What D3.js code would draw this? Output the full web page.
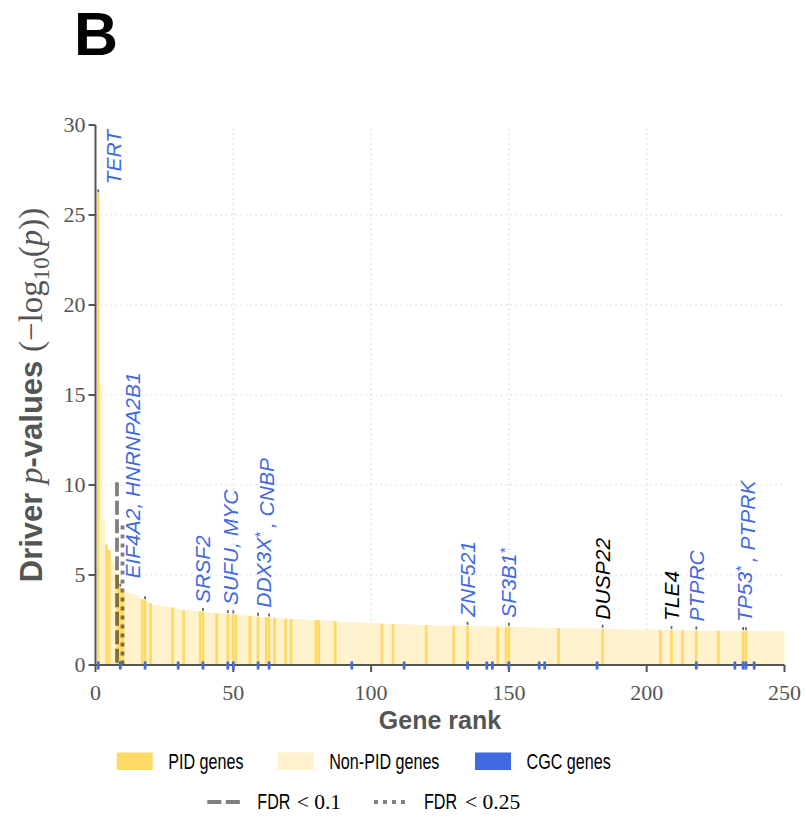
<!DOCTYPE html>
<html><head><meta charset="utf-8">
<script src="https://cdn.jsdelivr.net/npm/d3@7"></script>
<style>body{margin:0;background:#fff} svg{display:block}</style>
</head><body>
<svg id="c" width="806" height="818"></svg>
<script>
// ---------------- data ----------------
const pValues = [
  26.2, 15.6, 8.1, 6.7, 6.4, 5.8, 5.5, 5.05, 4.3, 4.05,
  4.02, 4.0, 3.96, 3.92, 3.86, 3.76, 3.66, 3.6, 3.5, 3.43,
  3.38, 3.35, 3.32, 3.3, 3.28, 3.25, 3.22, 3.2, 3.16, 3.13,
  3.09, 3.05, 3.04, 3.03, 3.02, 3.0, 2.99, 2.97, 2.95, 2.93,
  2.92, 2.9, 2.89, 2.88, 2.87, 2.86, 2.85, 2.83, 2.82, 2.81,
  2.79, 2.78, 2.77, 2.76, 2.74, 2.73, 2.72, 2.7, 2.68, 2.67,
  2.66, 2.65, 2.64, 2.63, 2.62, 2.61, 2.6, 2.59, 2.58, 2.57,
  2.56, 2.555, 2.55, 2.545, 2.54, 2.53, 2.52, 2.515, 2.51, 2.5,
  2.49, 2.48, 2.475, 2.47, 2.46, 2.45, 2.44, 2.43, 2.42, 2.41,
  2.4, 2.39, 2.385, 2.38, 2.375, 2.37, 2.36, 2.35, 2.34, 2.33,
  2.32, 2.315, 2.31, 2.3, 2.295, 2.29, 2.285, 2.28, 2.275, 2.27,
  2.265, 2.26, 2.255, 2.25, 2.245, 2.24, 2.235, 2.23, 2.225, 2.22,
  2.215, 2.21, 2.21, 2.205, 2.2, 2.2, 2.195, 2.19, 2.19, 2.185,
  2.18, 2.18, 2.18, 2.175, 2.175, 2.17, 2.17, 2.17, 2.165, 2.16,
  2.16, 2.155, 2.15, 2.15, 2.145, 2.14, 2.14, 2.135, 2.13, 2.13,
  2.125, 2.12, 2.12, 2.115, 2.11, 2.1, 2.1, 2.095, 2.09, 2.085,
  2.08, 2.075, 2.07, 2.07, 2.065, 2.06, 2.06, 2.055, 2.05, 2.05,
  2.05, 2.045, 2.045, 2.04, 2.04, 2.04, 2.035, 2.03, 2.03, 2.025,
  2.025, 2.02, 2.02, 2.02, 2.015, 2.01, 2.01, 2.005, 2.0, 2.0,
  2.0, 1.995, 1.99, 1.99, 1.985, 1.98, 1.975, 1.97, 1.97, 1.965,
  1.96, 1.96, 1.955, 1.95, 1.95, 1.95, 1.945, 1.945, 1.94, 1.94,
  1.935, 1.935, 1.93, 1.93, 1.925, 1.925, 1.92, 1.92, 1.915, 1.915,
  1.91, 1.91, 1.905, 1.905, 1.9, 1.9, 1.9, 1.895, 1.895, 1.89,
  1.89, 1.89, 1.885, 1.885, 1.885, 1.88, 1.88, 1.88, 1.88, 1.875,
  1.875, 1.875, 1.875, 1.87, 1.87, 1.87, 1.87, 1.87, 1.87, 1.87
];
const pidRanks = [1,4,5,8,9,10,17,18,20,28,32,38,39,44,48,50,51,56,59,62,63,65,69,71,80,81,87,
  104,108,120,130,135,146,149,150,168,184,205,209,213,218,226,235,236];
const cgcRanks = [1,9,18,30,39,48,50,59,63,93,112,135,142,144,150,161,163,182,218,232,235,236,239];
const geneLabels = [
  {text:"TERT", ranks:[1], cgc:true},
  {text:"EIF4A2, HNRNPA2B1", ranks:[9,18], cgc:true},
  {text:"SRSF2", ranks:[39], cgc:true},
  {text:"SUFU, MYC", ranks:[48,50], cgc:true},
  {text:"DDX3X*, CNBP", ranks:[59,63], cgc:true},
  {text:"ZNF521", ranks:[135], cgc:true},
  {text:"SF3B1*", ranks:[150], cgc:true},
  {text:"DUSP22", ranks:[184], cgc:false},
  {text:"TLE4", ranks:[209], cgc:false},
  {text:"PTPRC", ranks:[218], cgc:true},
  {text:"TP53*, PTPRK", ranks:[235,236], cgc:true}
];
const fdrLines = [
  {label:"FDR", math:"< 0.1", rank:7.8, top:10.15, kind:"dashed"},
  {label:"FDR", math:"< 0.25", rank:9.8, top:7.75, kind:"dotted"}
];
const legendGenes = ["PID genes", "Non-PID genes", "CGC genes"];
const yTicks = [0,5,10,15,20,25,30];
const xTicks = [0,50,100,150,200,250];

// ---------------- styles ----------------
const PID = "#FFD966", NON = "#FFF2CC", CGC = "#4169E1", AX = "#555555";
const SERIF = "'Liberation Serif','DejaVu Serif',serif";
const SANS = "'Liberation Sans',Arial,sans-serif";
const dashes = {dashed:"14,4.5", dotted:"4,5"};

const svg = d3.select("#c");
const x = d3.scaleLinear().domain([0,250]).range([95.5,784.5]);
const y = d3.scaleLinear().domain([0,30]).range([665,125]);
const bw = x(1) - x(0);
const data = pValues.map((v,i)=>({rank:i+1, value:v, pid:pidRanks.includes(i+1)}));

svg.append("defs").append("clipPath").attr("id","clip").append("rect")
  .attr("x",x(0)).attr("y",0).attr("width",x(250)-x(0)).attr("height",y(0));

// grid
const grid = svg.append("g").attr("stroke","#d6d6d6").attr("stroke-width",1.2).attr("stroke-dasharray","1.5,3.5");
grid.selectAll("line.h").data(yTicks.filter(t=>t>0 && t<30)).join("line")
  .attr("x1",x(0)).attr("x2",x(250)).attr("y1",d=>y(d)).attr("y2",d=>y(d));
grid.selectAll("line.v").data(xTicks.filter(t=>t>0 && t<250)).join("line")
  .attr("x1",d=>x(d)).attr("x2",d=>x(d)).attr("y1",y(0)).attr("y2",y(30));

// bars
const sorted = data.slice().sort((a,b)=>(a.pid?1:0)-(b.pid?1:0));
svg.append("g").attr("clip-path","url(#clip)").selectAll("rect").data(sorted).join("rect")
  .attr("x",d=>x(d.rank-0.5)).attr("width",d=>bw+(d.pid?0:0.4))
  .attr("y",d=>y(d.value)).attr("height",d=>y(0)-y(d.value))
  .attr("fill",d=>d.pid?PID:NON);

// FDR lines
svg.append("g").selectAll("line").data(fdrLines).join("line")
  .attr("x1",d=>x(d.rank)).attr("x2",d=>x(d.rank))
  .attr("y1",d=>y(d.top)).attr("y2",y(0))
  .attr("stroke","#000").attr("stroke-opacity",0.5).attr("stroke-width",3.8)
  .attr("stroke-dasharray",d=>dashes[d.kind]);

// gene markers and labels
const valOf = r => pValues[r-1];
const mk = svg.append("g");
geneLabels.forEach(g=>{
  g.ranks.forEach(r=>{
    mk.append("line").attr("x1",x(r)).attr("x2",x(r))
      .attr("y1",y(valOf(r))-1).attr("y2",y(valOf(r))-4)
      .attr("stroke","#666").attr("stroke-width",1.8);
  });
  const cx = Math.max(d3.mean(g.ranks, r=>x(r)), x(0)+18);
  const top = y(d3.max(g.ranks, valOf)) - 9;
  const t = mk.append("text")
    .attr("transform",`translate(${cx},${top}) rotate(-90)`)
    .attr("dy","0.35em")
    .attr("font-family",SANS).attr("font-style","italic").attr("font-size",21)
    .attr("fill", g.cgc ? CGC : "#000");
  const parts = g.text.split("*");
  parts.forEach((p,i)=>{
    if (p.length) t.append("tspan").text(p);
    if (i < parts.length-1) {
      t.append("tspan").attr("dy","-0.45em").attr("font-size",14).text("*");
      t.append("tspan").attr("dy","0.45em").text("\u2009");
    }
  });
});

// axes
const ax = svg.append("g").attr("stroke",AX).attr("stroke-width",2);
ax.append("line").attr("x1",x(0)).attr("x2",x(0)).attr("y1",y(0)+1).attr("y2",y(30));
ax.append("line").attr("x1",x(0)-1).attr("x2",x(250)).attr("y1",y(0)).attr("y2",y(0));
ax.selectAll("line.yt").data(yTicks).join("line")
  .attr("x1",x(0)-7).attr("x2",x(0)).attr("y1",d=>y(d)).attr("y2",d=>y(d));
ax.selectAll("line.xt").data(xTicks).join("line")
  .attr("x1",d=>x(d)).attr("x2",d=>x(d)).attr("y1",y(0)).attr("y2",y(0)+7);

svg.append("g").selectAll("text").data(yTicks).join("text")
  .attr("x",x(0)-10).attr("y",d=>y(d)).attr("dy","0.33em").attr("text-anchor","end")
  .attr("font-family",SERIF).attr("font-size",22).attr("fill",AX).text(d=>d);
svg.append("g").selectAll("text").data(xTicks).join("text")
  .attr("x",d=>x(d)).attr("y",y(0)+35).attr("text-anchor","middle")
  .attr("font-family",SERIF).attr("font-size",22).attr("fill",AX).text(d=>d);

// CGC marks on axis
svg.append("g").selectAll("rect").data(cgcRanks).join("rect")
  .attr("x",d=>x(d-0.5)).attr("width",bw).attr("y",y(0)-3.5).attr("height",8)
  .attr("fill",CGC);

// axis titles
svg.append("text").attr("x",(x(0)+x(250))/2).attr("y",729).attr("text-anchor","middle")
  .attr("font-family",SANS).attr("font-weight","bold").attr("font-size",25).attr("fill",AX)
  .text("Gene rank");

const yl = svg.append("text").attr("transform",`translate(42,${(y(0)+y(30))/2}) rotate(-90)`)
  .attr("text-anchor","middle").attr("font-size",31).attr("fill",AX);
yl.append("tspan").attr("font-family",SANS).attr("font-weight","bold").text("Driver ");
yl.append("tspan").attr("font-family",SERIF).attr("font-style","italic").attr("font-size",33).text("p");
yl.append("tspan").attr("font-family",SANS).attr("font-weight","bold").text("-values ");
yl.append("tspan").attr("font-family",SERIF).attr("font-size",33).text("(\u2212log");
yl.append("tspan").attr("font-family",SERIF).attr("font-size",23).attr("dy","0.3em").text("10");
yl.append("tspan").attr("font-family",SERIF).attr("font-size",33).attr("dy","-0.2em").text("(");
yl.append("tspan").attr("font-family",SERIF).attr("font-style","italic").attr("font-size",33).text("p");
yl.append("tspan").attr("font-family",SERIF).attr("font-size",33).text("))");

// panel letter
svg.append("text").attr("x",74).attr("y",55).attr("font-family",SANS).attr("font-weight","bold")
  .attr("font-size",61).attr("fill","#000").text("B");

// legend
const leg = svg.append("g");
const legCols = [116.7, 277.7, 475];
const legColors = [PID, NON, CGC];
const SQ = 0.75; // horizontally condensed legend lettering
legendGenes.forEach((name,i)=>{
  leg.append("rect").attr("x",legCols[i]).attr("y",752.5).attr("width",36).attr("height",17.5).attr("fill",legColors[i]);
  leg.append("text").attr("transform",`translate(${legCols[i]+51.5},769) scale(${SQ},1)`)
    .attr("font-family",SANS).attr("font-size",21.5).attr("fill","#000").text(name);
});
const fdrCols = [207.3, 374];
const fdrMathX = [296.7, 465];
fdrLines.forEach((f,i)=>{
  leg.append("line").attr("x1",fdrCols[i]).attr("x2",fdrCols[i]+33).attr("y1",802).attr("y2",802)
    .attr("stroke","#808080").attr("stroke-width",4).attr("stroke-dasharray",dashes[f.kind]);
  leg.append("text").attr("transform",`translate(${fdrCols[i]+50},809) scale(${SQ},1)`)
    .attr("font-family",SANS).attr("font-size",21.5).attr("fill","#000").text(f.label);
  leg.append("text").attr("x",fdrMathX[i]).attr("y",809).attr("fill","#000")
    .attr("font-family",SERIF).attr("font-size",21.5).text(f.math);
});
</script>
</body></html>
